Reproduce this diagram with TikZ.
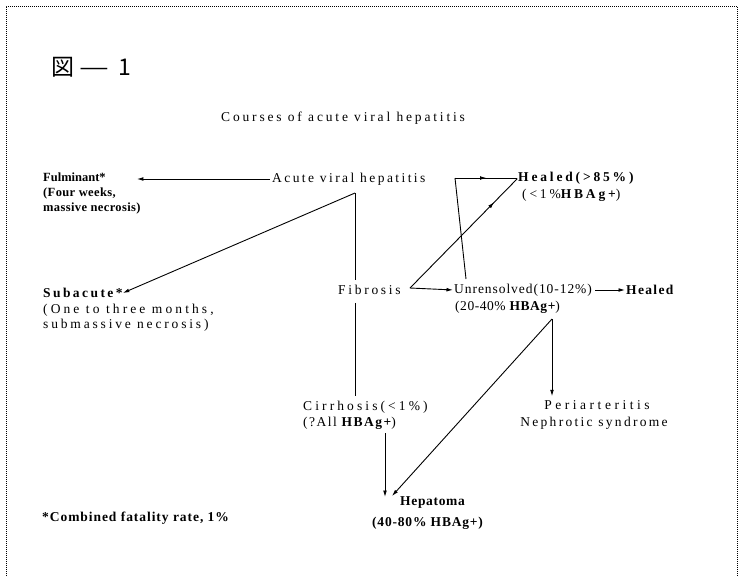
\documentclass[tikz,border=0pt]{standalone}
\usepackage{fontspec}
\setmainfont{Liberation Serif}
\newfontfamily\cjk{Noto Sans CJK JP}
\usetikzlibrary{arrows.meta,decorations.markings}
\begin{document}
\begin{tikzpicture}[x=1pt,y=-1pt,
  every node/.style={inner sep=0pt,anchor=west},
  t/.style={font={\fontsize{13.5}{16}\selectfont\addfontfeature{LetterSpace=#1}}},
  tb/.style={font={\fontsize{13.5}{16}\selectfont\bfseries\addfontfeature{LetterSpace=#1}}},
  fb/.style={font={\fontsize{12.5}{16}\selectfont\bfseries\addfontfeature{LetterSpace=#1}}},
  ln/.style={line width=0.9pt},
  arr/.style={ln,-{Latex[length=6.5pt,width=3.8pt]}},
  midarr/.style={ln,postaction={decorate},decoration={markings,
     mark=at position #1 with {\arrow{Latex[length=6.5pt,width=3.8pt]}}}},
  frame/.style={line width=0.6pt,dash pattern=on 0.8pt off 1.2pt}
]
\useasboundingbox (0,0) rectangle (741,576);
\draw[frame] (6,576) -- (6,6) -- (737,6) -- (737,576);

% texts
\node[font={\cjk\fontsize{23}{23}\selectfont}] (fig) at (51,67) {図\hspace{5pt}\scalebox{1.45}[1]{—}\hspace{9pt}1};
\node[t=21] (title) at (221,118) {Courses of acute viral hepatitis};
\node[t=18] (acute) at (272,179) {Acute viral hepatitis};
\node[fb=0] (fulm) at (43,177) {Fulminant*};
\node[fb=3] (fulm2) at (43,193) {(Four weeks,};
\node[fb=3] (fulm3) at (43,208) {massive necrosis)};
\node[tb=18] (sub) at (43,293) {Subacute*};
\node[t=23] (sub2) at (43,310) {(One to three months,};
\node[t=21] (sub3) at (43,325) {submassive necrosis)};
\node[t=20] (fib) at (338,290) {Fibrosis};
\node[t=7] (unr) at (454,290) {Unrensolved(10-12\%)};
\node[t=4] (unr2) at (455,307) {(20-40\% {\bfseries HBAg+})};
\node[tb=10] (heal2) at (626,290) {Healed};
\node[tb=21] (heal) at (518,178) {Healed(>85\%)};
\node[t=21] (heal1b) at (522,195) {(<1\%{\bfseries HBAg+})};
\node[t=23] (cir) at (303,407) {Cirrhosis(<1\%)};
\node[t=11] (cir2) at (303,423) {(?All {\bfseries HBAg+})};
\node[t=26,anchor=center] (peri) at (597,405) {Periarteritis};
\node[t=17,anchor=center] (neph) at (594,423) {Nephrotic syndrome};
\node[tb=5] (hep) at (400,503) {Hepatoma};
\node[tb=6] (hep2) at (372,523) {(40-80\% HBAg+)};
\node[tb=7] (comb) at (42,518) {*Combined fatality rate, 1\%};

% corner points
\coordinate (A) at (355,193);
\coordinate (F) at (410,288);
\coordinate (U) at (466,279);
\coordinate (B) at (455,178);
\coordinate (C) at (552,319);
\coordinate (tipC) at (385,497);
\coordinate (tipH) at (392,496);

% connectors
\draw[arr,shorten <=2pt,shorten >=31pt] (acute.west) -- (acute.west -| fulm.east);
\draw[arr] (A) -- (sub.east);
\draw[ln,shorten >=5pt] (A) -- (A |- fib.north);
\draw[ln,shorten <=8pt,shorten >=5pt] (A |- fib.south) -- (A |- cir.north);
\draw[arr,shorten >=1pt] (F) -- (unr.west);
\draw[midarr=0.78,shorten >=1pt] (F) -- (heal.west);
\draw[ln] (U) -- (B);
\draw[midarr=0.5,shorten >=1pt] (B) -- (heal.west);
\draw[arr,shorten <=3pt,shorten >=1pt] (unr.east) -- (heal2.west);
\draw[arr,shorten >=4pt] (C) -- (C |- peri.north);
\draw[arr] (C) -- (tipH);
\draw[arr,shorten <=4pt] (tipC |- cir2.south) -- (tipC);
\end{tikzpicture}
\end{document}
